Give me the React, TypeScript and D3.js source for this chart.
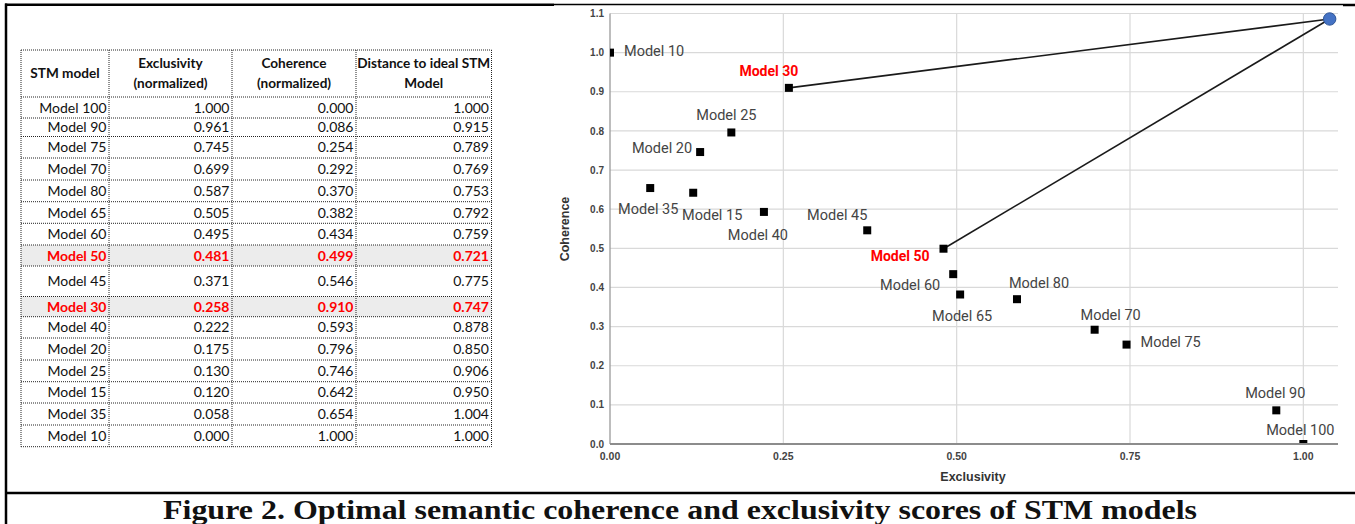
import React from "react";
import * as d3 from "d3";

// ---------- Table data ----------
const tableModels = ["Model 100","Model 90","Model 75","Model 70","Model 80","Model 65","Model 60","Model 50","Model 45","Model 30","Model 40","Model 20","Model 25","Model 15","Model 35","Model 10"];
const exclusivity = [1.000,0.961,0.745,0.699,0.587,0.505,0.495,0.481,0.371,0.258,0.222,0.175,0.130,0.120,0.058,0.000];
const coherence = [0.000,0.086,0.254,0.292,0.370,0.382,0.434,0.499,0.546,0.910,0.593,0.796,0.746,0.642,0.654,1.000];
const distance = [1.000,0.915,0.789,0.769,0.753,0.792,0.759,0.721,0.775,0.747,0.878,0.850,0.906,0.950,1.004,1.000];
const highlighted = ["Model 50","Model 30"];
const tableHeaders = [["STM model"],["Exclusivity","(normalized)"],["Coherence","(normalized)"],["Distance to ideal STM","Model"]];

// ---------- Chart data ----------
const chartLabels = ["Model 10","Model 30","Model 25","Model 20","Model 35","Model 15","Model 40","Model 45","Model 50","Model 60","Model 65","Model 80","Model 70","Model 75","Model 90","Model 100"];
const chartX = [0.000,0.258,0.175,0.130,0.058,0.120,0.222,0.371,0.481,0.495,0.505,0.587,0.699,0.745,0.961,1.000];
const chartY = [1.000,0.910,0.796,0.746,0.654,0.642,0.593,0.546,0.499,0.434,0.382,0.370,0.292,0.254,0.086,0.000];
const idealX = 1.038;
const idealY = 1.086;
const linkedModels = ["Model 30","Model 50"];
const xTicks = [0, 0.25, 0.5, 0.75, 1.0];
const yTicks = [0,0.1,0.2,0.3,0.4,0.5,0.6,0.7,0.8,0.9,1.0,1.1];
const caption = "Figure 2. Optimal semantic coherence and exclusivity scores of STM models";

// label placement (layout only): [dx, dy, anchor]
const labelPos: Record<string, [number, number, string]> = {
  "Model 10": [14, -2, "start"],
  "Model 30": [-20, -17, "middle"],
  "Model 25": [-5, -18, "middle"],
  "Model 20": [-8, -4, "end"],
  "Model 35": [-2, 21, "middle"],
  "Model 15": [19, 22, "middle"],
  "Model 40": [-6, 23, "middle"],
  "Model 45": [-30, -16, "middle"],
  "Model 50": [-14, 7, "end"],
  "Model 60": [-13, 11, "end"],
  "Model 65": [2, 21, "middle"],
  "Model 80": [22, -16, "middle"],
  "Model 70": [16, -15, "middle"],
  "Model 75": [14, -3, "start"],
  "Model 90": [-1, -18, "middle"],
  "Model 100": [-3, -14, "middle"],
};

const W = 1355, H = 524;

function Table() {
  const colX = [21, 109, 232, 356, 491.5];
  const headTop = 50;
  const rowB = [97,118,136.5,158,180,201.7,223.3,245,266,296.5,316.7,338,360,381.7,403,425,446.7];
  const font = "Lato, 'Noto Sans', sans-serif";
  const dotted = { stroke: "#222", strokeWidth: 1, strokeDasharray: "1 1" };
  const cols = [tableModels.map(String), exclusivity.map(v => v.toFixed(3)), coherence.map(v => v.toFixed(3)), distance.map(v => v.toFixed(3))];
  return (
    <g>
      {tableModels.map((m, i) =>
        highlighted.includes(m) ? (
          <rect key={"bg" + i} x={colX[0]} y={rowB[i]} width={colX[4] - colX[0]} height={rowB[i + 1] - rowB[i]} fill="#ececec" />
        ) : null
      )}
      {tableHeaders.map((lines, c) => {
        const cx = (colX[c] + colX[c + 1]) / 2;
        return lines.map((t, k) => (
          <text key={"h" + c + k} x={cx} y={lines.length === 1 ? 78 : 68 + k * 20} textAnchor="middle"
            fontFamily={font} fontWeight="bold" fontSize={13.6} fill="#111">{t}</text>
        ));
      })}
      {tableModels.map((m, i) => {
        const hl = highlighted.includes(m);
        const cy = (rowB[i] + rowB[i + 1]) / 2 + 5;
        return cols.map((col, c) => (
          <text key={"c" + i + c} x={colX[c + 1] - 2.5} y={cy} textAnchor="end" fontFamily={font}
            fontSize={14} fontWeight={hl ? "bold" : "normal"} fill={hl ? "#ff0000" : "#111"}>{col[i]}</text>
        ));
      })}
      {[headTop, ...rowB].map((y, i) => (
        <line key={"hl" + i} x1={colX[0]} x2={colX[4]} y1={y} y2={y} {...dotted} />
      ))}
      {colX.map((x, i) => (
        <line key={"vl" + i} x1={x} x2={x} y1={headTop} y2={rowB[rowB.length - 1]} {...dotted} />
      ))}
    </g>
  );
}

function Chart() {
  const x = d3.scaleLinear().domain([0, 1.05]).range([610, 1338]);
  const y = d3.scaleLinear().domain([0, 1.1]).range([444, 13.5]);
  const tickFont = "'Liberation Sans', Arial, sans-serif";
  const labFont = "Roboto, 'Liberation Sans', sans-serif";
  const sq = 8;
  return (
    <g>
      <defs>
        <clipPath id="plotclip">
          <rect x={x(0)} y={y(1.1) - 1} width={x(1.05) - x(0)} height={y(0) - y(1.1) + 1} />
        </clipPath>
      </defs>
      {yTicks.map((t, i) => (
        <line key={"gy" + i} x1={x(0)} x2={x(1.05)} y1={y(t)} y2={y(t)} stroke="#d9d9d9" strokeWidth={1.2} />
      ))}
      {xTicks.filter(t => t > 0).map((t, i) => (
        <line key={"gx" + i} x1={x(t)} x2={x(t)} y1={y(1.1)} y2={y(0)} stroke="#d9d9d9" strokeWidth={1.2} />
      ))}
      <line x1={x(0)} x2={x(0)} y1={y(1.1)} y2={y(0)} stroke="#9a9a9a" strokeWidth={1.3} />
      {yTicks.map((t, i) => (
        <text key={"ty" + i} x={604} y={y(t) + 3.6} textAnchor="end" fontFamily={tickFont} fontWeight="bold" fontSize={10} fill="#444">{t.toFixed(1)}</text>
      ))}
      {xTicks.map((t, i) => (
        <text key={"tx" + i} x={x(t)} y={460} textAnchor="middle" fontFamily={tickFont} fontWeight="bold" fontSize={10.5} fill="#444">{t.toFixed(2)}</text>
      ))}
      <text x={973} y={481} textAnchor="middle" fontFamily={tickFont} fontWeight="bold" fontSize={12.5} fill="#333">Exclusivity</text>
      <text transform={`translate(569,229) rotate(-90)`} textAnchor="middle" fontFamily={tickFont} fontWeight="bold" fontSize={12.5} fill="#333">Coherence</text>
      {linkedModels.map((m, k) => {
        const i = chartLabels.indexOf(m);
        return <line key={"lk" + k} x1={x(chartX[i])} y1={y(chartY[i])} x2={x(idealX)} y2={y(idealY)} stroke="#1a1a1a" strokeWidth={1.6} />;
      })}
      <g clipPath="url(#plotclip)">
        {chartLabels.map((m, i) => (
          <rect key={"p" + i} x={x(chartX[i]) - sq / 2} y={y(chartY[i]) - sq / 2} width={sq} height={sq} fill="#000" />
        ))}
      </g>
      <line x1={x(0)} x2={x(1.05)} y1={y(0)} y2={y(0)} stroke="#8c8c8c" strokeWidth={2} />
      <circle cx={x(idealX)} cy={y(idealY)} r={6.2} fill="#4472c4" stroke="#2f5597" strokeWidth={1} />
      {chartLabels.map((m, i) => {
        const [dx, dy, anchor] = labelPos[m];
        const red = linkedModels.includes(m);
        return (
          <text key={"l" + i} x={x(chartX[i]) + dx} y={y(chartY[i]) + dy + 5.2} textAnchor={anchor as any}
            fontFamily={labFont} fontSize={red ? 14 : 14.5} fontWeight={red ? "bold" : "normal"}
            fill={red ? "#ff0000" : "#444"}>{m}</text>
        );
      })}
    </g>
  );
}

export default function App() {
  return (
    <svg width={W} height={H} style={{ position: "absolute", left: 0, top: 0, background: "#fff" }}>
      <rect x={0} y={0} width={W} height={H} fill="#fff" />
      <line x1={6} x2={6} y1={3.5} y2={H} stroke="#000" strokeWidth={2.5} />
      <line x1={5} x2={554} y1={4.7} y2={4.7} stroke="#000" strokeWidth={2.5} />
      <line x1={554} x2={1343} y1={4.5} y2={4.5} stroke="#000" strokeWidth={1.5} />
      <line x1={1343} x2={W} y1={5} y2={5} stroke="#000" strokeWidth={2.5} />
      <line x1={5} x2={W} y1={493} y2={493} stroke="#000" strokeWidth={2.5} />
      <Table />
      <Chart />
      <text x={680} y={519} textAnchor="middle" fontFamily="'Liberation Serif', 'DejaVu Serif', serif" fontWeight="bold"
        fontSize={27} textLength={1034} lengthAdjust="spacingAndGlyphs" fill="#111">{caption}</text>
    </svg>
  );
}
